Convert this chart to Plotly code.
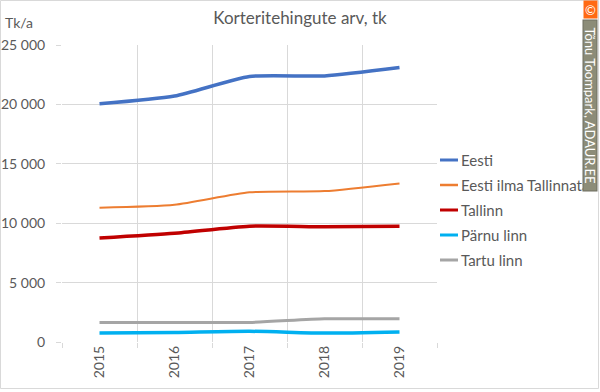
import plotly.graph_objects as go

years = ["2015", "2016", "2017", "2018", "2019"]
eesti = [20050, 20700, 22350, 22400, 23100]
eesti_ilma_tallinnata = [11300, 11550, 12600, 12700, 13350]
tallinn = [8750, 9150, 9750, 9700, 9750]
parnu = [750, 800, 900, 750, 850]
tartu = [1650, 1650, 1650, 1950, 1950]

series_names = ["Eesti", "Eesti ilma Tallinnata", "Tallinn", "Pärnu linn", "Tartu linn"]
series_values = [eesti, eesti_ilma_tallinnata, tallinn, parnu, tartu]
series_colors = ["#4472C4", "#ED7D31", "#C00000", "#00B0F0", "#A5A5A5"]
series_widths = [3.5, 2, 3.5, 3.5, 3]

y_tickvals = [0, 5000, 10000, 15000, 20000, 25000]
y_ticktext = ["0", "5 000", "10 000", "15 000", "20 000", "25 000"]

FONT = "Lato, 'Liberation Sans', sans-serif"
TXT = "#595959"
GRID = "#D9D9D9"

# plot area in pixels
L, R, T, B = 62, 437, 45, 342
W, H = 600, 392


def px(x):
    return (x - L) / (R - L)


def py(y):
    return (B - y) / (B - T)


fig = go.Figure()
# draw in reverse so Eesti sits on top
for name, vals, col, w in reversed(list(zip(series_names, series_values, series_colors, series_widths))):
    fig.add_trace(go.Scatter(
        x=years, y=vals, name=name, mode="lines",
        line=dict(color=col, width=w, shape="spline", smoothing=0.6),
        showlegend=False, hoverinfo="x+y+name",
    ))

shapes = []
annotations = []

# custom legend
for i, (name, col, w) in enumerate(zip(series_names, series_colors, series_widths)):
    yy = 160 + 25 * i
    shapes.append(dict(type="line", xref="paper", yref="paper",
                       x0=px(440), x1=px(458), y0=py(yy), y1=py(yy),
                       line=dict(color=col, width=3 if w > 2 else 2.5)))
    annotations.append(dict(text=name, xref="paper", yref="paper",
                            x=px(459), y=py(yy), xanchor="left", yanchor="middle",
                            showarrow=False, font=dict(family=FONT, size=15, color=TXT)))

# unit label
annotations.append(dict(text="Tk/a", xref="paper", yref="paper", x=px(3), y=py(22),
                        xanchor="left", yanchor="middle", showarrow=False,
                        font=dict(family=FONT, size=14, color=TXT)))

# watermark (drawn last so it covers overflowing legend text)
annotations.append(dict(text="Tõnu Toompark, ADAUR.EE", xref="paper", yref="paper",
                        x=px(590.5), y=py(105), xanchor="center", yanchor="middle",
                        textangle=90, width=170, height=13, showarrow=False,
                        bgcolor="#8C8C78", bordercolor="#6E6E60", borderwidth=1, borderpad=0,
                        font=dict(family=FONT, size=13, color="white")))
annotations.append(dict(text="©", xref="paper", yref="paper",
                        x=px(590.5), y=py(9.5), xanchor="center", yanchor="middle",
                        width=13, height=17, showarrow=False,
                        bgcolor="#FF6A13", borderpad=0,
                        font=dict(family=FONT, size=13, color="white")))

# outer chart border
shapes.append(dict(type="rect", xref="paper", yref="paper",
                   x0=px(0.5), x1=px(598.5), y0=py(0.5), y1=py(388.5),
                   line=dict(color=GRID, width=1), layer="below"))

fig.update_layout(
    width=W, height=H,
    margin=dict(l=L, r=W - R, t=T, b=H - B, autoexpand=False),
    paper_bgcolor="white", plot_bgcolor="white",
    title=dict(text="Korteritehingute arv, tk", x=0.5, xref="container", xanchor="center",
               y=1 - 18 / H, yref="container", yanchor="middle",
               font=dict(family=FONT, size=17, color=TXT)),
    showlegend=False,
    shapes=shapes, annotations=annotations,
    xaxis=dict(type="category", range=[-0.5, 4.5], tickson="boundaries",
               showgrid=True, gridcolor=GRID, gridwidth=1, automargin=False,
               ticks="outside", ticklen=5, tickcolor=GRID,
               tickangle=-90, showline=False, zeroline=False,
               tickfont=dict(family=FONT, size=14, color=TXT)),
    yaxis=dict(range=[0, 25000], tickvals=y_tickvals, ticktext=y_ticktext,
               showgrid=True, gridcolor=GRID, gridwidth=1, automargin=False,
               ticks="outside", ticklen=5, tickcolor=GRID, ticklabelstandoff=8,
               showline=False, zeroline=False,
               tickfont=dict(family=FONT, size=14, color=TXT)),
)

fig.write_html("out.html", config={"displayModeBar": False},
               post_script="document.body.style.margin='0';document.body.style.overflow='hidden';")
